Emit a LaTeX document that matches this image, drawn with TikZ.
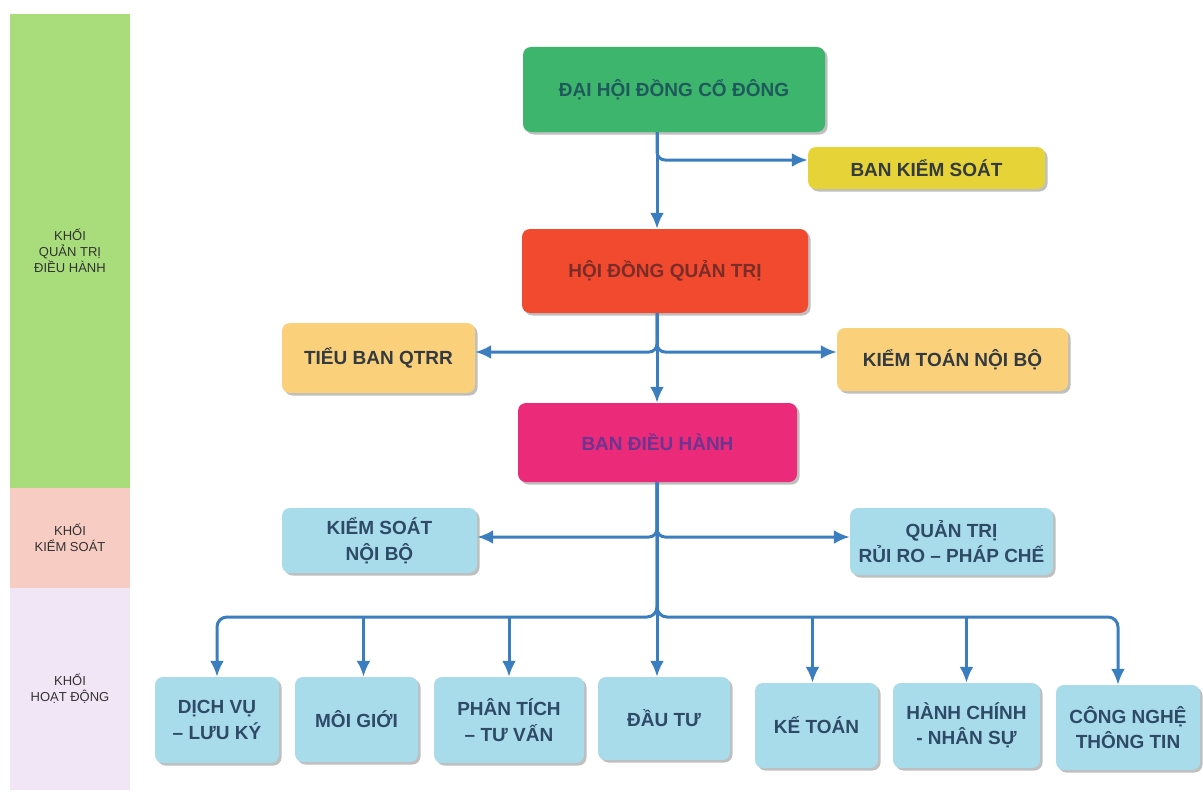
\documentclass[tikz,border=0pt]{standalone}
\usepackage{fontspec}
\setmainfont{Liberation Sans}
\usetikzlibrary{arrows.meta,shadows}
\definecolor{bandgreen}{HTML}{A9DD7B}
\definecolor{bandpink}{HTML}{F7CDC3}
\definecolor{bandlav}{HTML}{F1E6F5}
\definecolor{dhfill}{HTML}{3DB56C}
\definecolor{dhtext}{HTML}{1E5A5C}
\definecolor{bksfill}{HTML}{E6D338}
\definecolor{hdfill}{HTML}{F24A2E}
\definecolor{hdtext}{HTML}{7A2C28}
\definecolor{orfill}{HTML}{FAD07A}
\definecolor{bdhfill}{HTML}{EC2A7A}
\definecolor{bdhtext}{HTML}{6B3590}
\definecolor{blfill}{HTML}{A9DCEB}
\definecolor{boxtext}{HTML}{333A40}
\definecolor{bltext}{HTML}{2E4A66}
\definecolor{linecol}{HTML}{3B7EBF}
\definecolor{bandtext}{HTML}{333333}
\begin{document}
\begin{tikzpicture}[x=1pt,y=-1pt,
  band/.style={draw=none,inner sep=0pt,align=center,text=bandtext,
    font=\fontsize{13}{16}\selectfont},
  box/.style={rounded corners=8pt,inner sep=0pt,align=center,text=boxtext,
    font=\fontsize{19}{25.5}\selectfont\bfseries,
    drop shadow={shadow xshift=2.5pt,shadow yshift=-2.5pt,fill=black,opacity=0.25}},
  bbox/.style={box,fill=blfill,text=bltext},
  conn/.style={draw=linecol,line width=3pt,-{Latex[length=16pt,width=14pt]}}
]
\useasboundingbox (0,0) rectangle (1203,792);
\fill[white] (0,0) rectangle (1203,792);
% side bands
\node[band,fill=bandgreen,minimum width=120pt,minimum height=474pt] (b1) at (70,251) {KHỐI\\QUẢN TRỊ\\ĐIỀU HÀNH};
\node[band,fill=bandpink,minimum width=120pt,minimum height=100pt] (b2) at (70,538) {KHỐI\\KIỂM SOÁT};
\node[band,fill=bandlav,minimum width=120pt,minimum height=202pt] (b3) at (70,689) {KHỐI\\HOẠT ĐỘNG};
% boxes
\node[box,fill=dhfill,text=dhtext,minimum width=302pt,minimum height=85pt] (dh) at (674,89.5) {ĐẠI HỘI ĐỒNG CỔ ĐÔNG};
\node[box,fill=bksfill,minimum width=237pt,minimum height=42pt] (bks) at (926.5,168) {BAN KIỂM SOÁT};
\node[box,fill=hdfill,text=hdtext,minimum width=286pt,minimum height=84pt] (hd) at (665,271) {HỘI ĐỒNG QUẢN TRỊ};
\node[box,fill=orfill,minimum width=193pt,minimum height=70pt] (tb) at (378.5,358) {TIỂU BAN QTRR};
\node[box,fill=orfill,minimum width=231pt,minimum height=63pt] (ktnb) at (952.5,359.5) {KIỂM TOÁN NỘI BỘ};
\node[box,fill=bdhfill,text=bdhtext,minimum width=279pt,minimum height=79pt] (bdh) at (657.5,442.5) {BAN ĐIỀU HÀNH};
\node[bbox,minimum width=195pt,minimum height=65pt] (ksnb) at (379.5,540.5) {KIỂM SOÁT\\NỘI BỘ};
\node[bbox,minimum width=203pt,minimum height=67pt] (qtrr) at (951.5,541.5) {QUẢN TRỊ\\RỦI RO – PHÁP CHẾ};
% bottom row
\node[bbox,minimum width=124pt,minimum height=86pt] (dv) at (217,720) {DỊCH VỤ\\– LƯU KÝ};
\node[bbox,minimum width=123pt,minimum height=85pt] (mg) at (356.5,719.5) {MÔI GIỚI};
\node[bbox,minimum width=150pt,minimum height=86pt] (pt) at (509,720) {PHÂN TÍCH\\– TƯ VẤN};
\node[bbox,minimum width=132pt,minimum height=83pt] (dt) at (664,718.5) {ĐẦU TƯ};
\node[bbox,minimum width=123pt,minimum height=85pt] (kt) at (816.5,725.5) {KẾ TOÁN};
\node[bbox,minimum width=147pt,minimum height=85pt] (hc) at (966.5,725.5) {HÀNH CHÍNH\\- NHÂN SỰ};
\node[bbox,minimum width=144pt,minimum height=85pt] (cn) at (1128,727.5) {CÔNG NGHỆ\\THÔNG TIN};
% trunk coordinates
\coordinate (T) at (657,0);
\coordinate (bus) at (0,617);
% connectors
\draw[conn] (dh.south -| T) -- (hd.north -| T);
\draw[conn,rounded corners=8pt] (dh.south -| T) |- ([yshift=8pt]bks.west);
\draw[conn] (hd.south -| T) -- (bdh.north -| T);
\draw[conn,rounded corners=8pt] (hd.south -| T) |- ([yshift=6pt]tb.east);
\draw[conn,rounded corners=8pt] (hd.south -| T) |- ([yshift=7.5pt]ktnb.west);
\draw[conn,rounded corners=8pt] (bdh.south -| T) |- ([yshift=3.5pt]ksnb.east);
\draw[conn,rounded corners=8pt] (bdh.south -| T) |- ([yshift=4.5pt]qtrr.west);
\draw[conn] (bdh.south -| T) -- (dt.north -| T);
\draw[conn,rounded corners=10pt] (bdh.south -| T) |- (dv.north |- bus) -- (dv.north);
\draw[conn,rounded corners=10pt] (bdh.south -| T) |- ([xshift=-10pt]cn.north |- bus) -- ([xshift=-10pt]cn.north);
\draw[conn] ([xshift=7pt]mg.north |- bus) -- ([xshift=7pt]mg.north);
\draw[conn] (pt.north |- bus) -- (pt.north);
\draw[conn] ([xshift=-4pt]kt.north |- bus) -- ([xshift=-4pt]kt.north);
\draw[conn] (hc.north |- bus) -- (hc.north);
\end{tikzpicture}
\end{document}
